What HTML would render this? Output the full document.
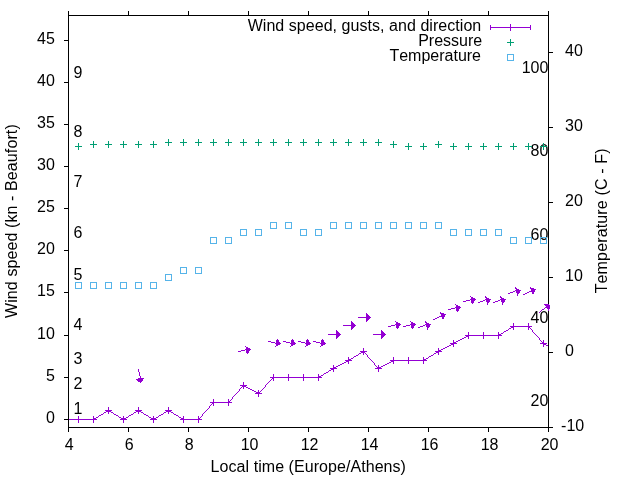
<!DOCTYPE html>
<html><head><meta charset="utf-8"><title>plot</title>
<style>
html,body{margin:0;padding:0;background:#fff;}
svg{display:block;will-change:transform;}
text{font-family:"Liberation Sans",sans-serif;font-size:16px;fill:#000;font-kerning:none;font-feature-settings:"kern" 0,"liga" 0;}
</style></head><body>
<svg width="640" height="480" viewBox="0 0 640 480">
<rect x="0" y="0" width="640" height="480" fill="#ffffff"/>
<defs><clipPath id="pc"><rect x="68" y="15" width="482" height="413"/></clipPath></defs>

<g id="labels">
<text x="73.6" y="414.1">1</text>
<text x="73.6" y="388.9">2</text>
<text x="73.6" y="363.6">3</text>
<text x="73.6" y="330.0">4</text>
<text x="73.6" y="279.6">5</text>
<text x="73.6" y="237.5">6</text>
<text x="73.6" y="187.1">7</text>
<text x="73.6" y="136.6">8</text>
<text x="73.6" y="77.8">9</text>
<text x="548.4" y="405.9" text-anchor="end">20</text>
<text x="548.4" y="322.7" text-anchor="end">40</text>
<text x="548.4" y="239.5" text-anchor="end">60</text>
<text x="548.4" y="156.2" text-anchor="end">80</text>
<text x="548.4" y="73.0" text-anchor="end">100</text>
</g>
<g id="axes" stroke="#000" stroke-width="1" fill="none" shape-rendering="crispEdges">
<rect x="68.5" y="15.5" width="480" height="412"/>
<line x1="68.5" y1="427" x2="68.5" y2="432"/>
<line x1="68.5" y1="11" x2="68.5" y2="16"/>
<line x1="128.5" y1="427" x2="128.5" y2="432"/>
<line x1="128.5" y1="11" x2="128.5" y2="16"/>
<line x1="188.5" y1="427" x2="188.5" y2="432"/>
<line x1="188.5" y1="11" x2="188.5" y2="16"/>
<line x1="248.5" y1="427" x2="248.5" y2="432"/>
<line x1="248.5" y1="11" x2="248.5" y2="16"/>
<line x1="308.5" y1="427" x2="308.5" y2="432"/>
<line x1="308.5" y1="11" x2="308.5" y2="16"/>
<line x1="368.5" y1="427" x2="368.5" y2="432"/>
<line x1="368.5" y1="11" x2="368.5" y2="16"/>
<line x1="428.5" y1="427" x2="428.5" y2="432"/>
<line x1="428.5" y1="11" x2="428.5" y2="16"/>
<line x1="488.5" y1="427" x2="488.5" y2="432"/>
<line x1="488.5" y1="11" x2="488.5" y2="16"/>
<line x1="548.5" y1="427" x2="548.5" y2="432"/>
<line x1="548.5" y1="11" x2="548.5" y2="16"/>
<line x1="64" y1="419.5" x2="69" y2="419.5"/>
<line x1="64" y1="377.5" x2="69" y2="377.5"/>
<line x1="64" y1="335.5" x2="69" y2="335.5"/>
<line x1="64" y1="292.5" x2="69" y2="292.5"/>
<line x1="64" y1="250.5" x2="69" y2="250.5"/>
<line x1="64" y1="208.5" x2="69" y2="208.5"/>
<line x1="64" y1="166.5" x2="69" y2="166.5"/>
<line x1="64" y1="124.5" x2="69" y2="124.5"/>
<line x1="64" y1="82.5" x2="69" y2="82.5"/>
<line x1="64" y1="40.5" x2="69" y2="40.5"/>
<line x1="548" y1="427.5" x2="553" y2="427.5"/>
<line x1="548" y1="352.5" x2="553" y2="352.5"/>
<line x1="548" y1="277.5" x2="553" y2="277.5"/>
<line x1="548" y1="202.5" x2="553" y2="202.5"/>
<line x1="548" y1="127.5" x2="553" y2="127.5"/>
<line x1="548" y1="52.5" x2="553" y2="52.5"/>
</g>
<g id="ticklabels">
<text x="54.8" y="422.9" text-anchor="end">0</text>
<text x="54.8" y="380.9" text-anchor="end">5</text>
<text x="54.8" y="338.9" text-anchor="end">10</text>
<text x="54.8" y="295.9" text-anchor="end">15</text>
<text x="54.8" y="253.9" text-anchor="end">20</text>
<text x="54.8" y="211.9" text-anchor="end">25</text>
<text x="54.8" y="169.9" text-anchor="end">30</text>
<text x="54.8" y="127.9" text-anchor="end">35</text>
<text x="54.8" y="85.9" text-anchor="end">40</text>
<text x="54.8" y="43.9" text-anchor="end">45</text>
<text x="561.1" y="430.9">-10</text>
<text x="565" y="355.9">0</text>
<text x="565" y="280.9">10</text>
<text x="565" y="205.9">20</text>
<text x="565" y="130.9">30</text>
<text x="565" y="55.9">40</text>
<text x="69.1" y="450" text-anchor="middle">4</text>
<text x="129.1" y="450" text-anchor="middle">6</text>
<text x="189.1" y="450" text-anchor="middle">8</text>
<text x="249.6" y="450" text-anchor="middle">10</text>
<text x="309.6" y="450" text-anchor="middle">12</text>
<text x="369.6" y="450" text-anchor="middle">14</text>
<text x="429.6" y="450" text-anchor="middle">16</text>
<text x="489.6" y="450" text-anchor="middle">18</text>
<text x="549.6" y="450" text-anchor="middle">20</text>
<text x="308.3" y="472.3" text-anchor="middle" letter-spacing="0.06">Local time (Europe/Athens)</text>
<text transform="translate(17,221.1) rotate(-90)" text-anchor="middle" letter-spacing="0.1">Wind speed (kn - Beaufort)</text>
<text transform="translate(607,220.8) rotate(-90)" text-anchor="middle" letter-spacing="0.15">Temperature (C - F)</text>
</g>
<g id="legend">
<text x="481.3" y="31.4" text-anchor="end" letter-spacing="0.047">Wind speed, gusts, and direction</text>
<text x="482.2" y="46.4" text-anchor="end">Pressure</text>
<text x="481" y="61.4" text-anchor="end">Temperature</text>
<g stroke="#9400d3" stroke-width="1" fill="none" shape-rendering="crispEdges">
<line x1="490" y1="27.5" x2="531" y2="27.5"/><line x1="490.5" y1="25" x2="490.5" y2="30"/><line x1="530.5" y1="25" x2="530.5" y2="30"/><line x1="510.5" y1="24" x2="510.5" y2="31"/>
</g>
<path d="M507 42.5H514M510.5 39V46" stroke="#009e73" stroke-width="1" fill="none" shape-rendering="crispEdges"/>
<rect x="507.5" y="54.5" width="6" height="6" stroke="#56b4e9" stroke-width="1" fill="none" shape-rendering="crispEdges"/>
</g>
<g id="data" clip-path="url(#pc)">
<path d="M513 326h16v1h-16zM511 327h2v1h-2zM529 327h1v1h-1zM509 328h2v1h-2zM530 328h1v1h-1zM508 329h1v1h-1zM531 329h1v1h-1zM506 330h2v1h-2zM532 330h1v1h-1zM504 331h2v1h-2zM532 331h1v1h-1zM503 332h1v1h-1zM533 332h1v1h-1zM501 333h2v1h-2zM534 333h1v1h-1zM499 334h2v1h-2zM535 334h1v1h-1zM468 335h31v1h-31zM536 335h1v1h-1zM466 336h2v1h-2zM537 336h1v1h-1zM464 337h2v1h-2zM538 337h1v1h-1zM462 338h2v1h-2zM539 338h1v1h-1zM460 339h2v1h-2zM539 339h1v1h-1zM458 340h2v1h-2zM540 340h1v1h-1zM456 341h2v1h-2zM541 341h1v1h-1zM454 342h2v1h-2zM542 342h1v1h-1zM453 343h1v1h-1zM543 343h1v1h-1zM451 344h2v1h-2zM544 344h2v1h-2zM449 345h2v1h-2zM546 345h2v1h-2zM447 346h2v1h-2zM445 347h2v1h-2zM443 348h2v1h-2zM441 349h2v1h-2zM439 350h2v1h-2zM363 351h1v1h-1zM438 351h1v1h-1zM361 352h2v1h-2zM364 352h1v1h-1zM436 352h2v1h-2zM359 353h2v1h-2zM365 353h1v1h-1zM434 353h2v1h-2zM358 354h1v1h-1zM366 354h1v1h-1zM433 354h1v1h-1zM356 355h2v1h-2zM367 355h1v1h-1zM431 355h2v1h-2zM354 356h2v1h-2zM367 356h1v1h-1zM429 356h2v1h-2zM353 357h1v1h-1zM368 357h1v1h-1zM428 357h1v1h-1zM351 358h2v1h-2zM369 358h1v1h-1zM426 358h2v1h-2zM349 359h2v1h-2zM370 359h1v1h-1zM424 359h2v1h-2zM348 360h1v1h-1zM371 360h1v1h-1zM393 360h31v1h-31zM346 361h2v1h-2zM372 361h1v1h-1zM391 361h2v1h-2zM344 362h2v1h-2zM373 362h1v1h-1zM389 362h2v1h-2zM342 363h2v1h-2zM374 363h1v1h-1zM387 363h2v1h-2zM340 364h2v1h-2zM374 364h1v1h-1zM385 364h2v1h-2zM338 365h2v1h-2zM375 365h1v1h-1zM383 365h2v1h-2zM336 366h2v1h-2zM376 366h1v1h-1zM381 366h2v1h-2zM334 367h2v1h-2zM377 367h1v1h-1zM379 367h2v1h-2zM333 368h1v1h-1zM378 368h1v1h-1zM331 369h2v1h-2zM329 370h2v1h-2zM328 371h1v1h-1zM326 372h2v1h-2zM324 373h2v1h-2zM323 374h1v1h-1zM321 375h2v1h-2zM319 376h2v1h-2zM273 377h46v1h-46zM272 378h1v1h-1zM271 379h1v1h-1zM270 380h1v1h-1zM269 381h1v1h-1zM268 382h1v1h-1zM267 383h1v1h-1zM266 384h1v1h-1zM243 385h1v1h-1zM265 385h1v1h-1zM242 386h1v1h-1zM244 386h2v1h-2zM265 386h1v1h-1zM241 387h1v1h-1zM246 387h2v1h-2zM264 387h1v1h-1zM240 388h1v1h-1zM248 388h2v1h-2zM263 388h1v1h-1zM239 389h1v1h-1zM250 389h2v1h-2zM262 389h1v1h-1zM239 390h1v1h-1zM252 390h2v1h-2zM261 390h1v1h-1zM238 391h1v1h-1zM254 391h2v1h-2zM260 391h1v1h-1zM237 392h1v1h-1zM256 392h2v1h-2zM259 392h1v1h-1zM236 393h1v1h-1zM258 393h1v1h-1zM235 394h1v1h-1zM234 395h1v1h-1zM233 396h1v1h-1zM232 397h1v1h-1zM232 398h1v1h-1zM231 399h1v1h-1zM230 400h1v1h-1zM229 401h1v1h-1zM213 402h16v1h-16zM212 403h1v1h-1zM211 404h1v1h-1zM210 405h1v1h-1zM209 406h1v1h-1zM209 407h1v1h-1zM208 408h1v1h-1zM207 409h1v1h-1zM108 410h1v1h-1zM138 410h1v1h-1zM168 410h1v1h-1zM206 410h1v1h-1zM106 411h2v1h-2zM109 411h2v1h-2zM136 411h2v1h-2zM139 411h2v1h-2zM166 411h2v1h-2zM169 411h2v1h-2zM205 411h1v1h-1zM104 412h2v1h-2zM111 412h2v1h-2zM134 412h2v1h-2zM141 412h2v1h-2zM164 412h2v1h-2zM171 412h2v1h-2zM204 412h1v1h-1zM103 413h1v1h-1zM113 413h1v1h-1zM133 413h1v1h-1zM143 413h1v1h-1zM163 413h1v1h-1zM173 413h1v1h-1zM203 413h1v1h-1zM101 414h2v1h-2zM114 414h2v1h-2zM131 414h2v1h-2zM144 414h2v1h-2zM161 414h2v1h-2zM174 414h2v1h-2zM202 414h1v1h-1zM99 415h2v1h-2zM116 415h2v1h-2zM129 415h2v1h-2zM146 415h2v1h-2zM159 415h2v1h-2zM176 415h2v1h-2zM202 415h1v1h-1zM98 416h1v1h-1zM118 416h1v1h-1zM128 416h1v1h-1zM148 416h1v1h-1zM158 416h1v1h-1zM178 416h1v1h-1zM201 416h1v1h-1zM96 417h2v1h-2zM119 417h2v1h-2zM126 417h2v1h-2zM149 417h2v1h-2zM156 417h2v1h-2zM179 417h2v1h-2zM200 417h1v1h-1zM94 418h2v1h-2zM121 418h2v1h-2zM124 418h2v1h-2zM151 418h2v1h-2zM154 418h2v1h-2zM181 418h2v1h-2zM199 418h1v1h-1zM69 419h25v1h-25zM123 419h1v1h-1zM153 419h1v1h-1zM183 419h16v1h-16z" fill="#9400d3" shape-rendering="crispEdges"/>
<path d="M75 419.5H82M78.5 416V423" stroke="#9400d3" stroke-width="1" fill="none" shape-rendering="crispEdges"/>
<path d="M90 419.5H97M93.5 416V423" stroke="#9400d3" stroke-width="1" fill="none" shape-rendering="crispEdges"/>
<path d="M105 410.5H112M108.5 407V414" stroke="#9400d3" stroke-width="1" fill="none" shape-rendering="crispEdges"/>
<path d="M120 419.5H127M123.5 416V423" stroke="#9400d3" stroke-width="1" fill="none" shape-rendering="crispEdges"/>
<path d="M135 410.5H142M138.5 407V414" stroke="#9400d3" stroke-width="1" fill="none" shape-rendering="crispEdges"/>
<path d="M150 419.5H157M153.5 416V423" stroke="#9400d3" stroke-width="1" fill="none" shape-rendering="crispEdges"/>
<path d="M165 410.5H172M168.5 407V414" stroke="#9400d3" stroke-width="1" fill="none" shape-rendering="crispEdges"/>
<path d="M180 419.5H187M183.5 416V423" stroke="#9400d3" stroke-width="1" fill="none" shape-rendering="crispEdges"/>
<path d="M195 419.5H202M198.5 416V423" stroke="#9400d3" stroke-width="1" fill="none" shape-rendering="crispEdges"/>
<path d="M210 402.5H217M213.5 399V406" stroke="#9400d3" stroke-width="1" fill="none" shape-rendering="crispEdges"/>
<path d="M225 402.5H232M228.5 399V406" stroke="#9400d3" stroke-width="1" fill="none" shape-rendering="crispEdges"/>
<path d="M240 385.5H247M243.5 382V389" stroke="#9400d3" stroke-width="1" fill="none" shape-rendering="crispEdges"/>
<path d="M255 393.5H262M258.5 390V397" stroke="#9400d3" stroke-width="1" fill="none" shape-rendering="crispEdges"/>
<path d="M270 377.5H277M273.5 374V381" stroke="#9400d3" stroke-width="1" fill="none" shape-rendering="crispEdges"/>
<path d="M285 377.5H292M288.5 374V381" stroke="#9400d3" stroke-width="1" fill="none" shape-rendering="crispEdges"/>
<path d="M300 377.5H307M303.5 374V381" stroke="#9400d3" stroke-width="1" fill="none" shape-rendering="crispEdges"/>
<path d="M315 377.5H322M318.5 374V381" stroke="#9400d3" stroke-width="1" fill="none" shape-rendering="crispEdges"/>
<path d="M330 368.5H337M333.5 365V372" stroke="#9400d3" stroke-width="1" fill="none" shape-rendering="crispEdges"/>
<path d="M345 360.5H352M348.5 357V364" stroke="#9400d3" stroke-width="1" fill="none" shape-rendering="crispEdges"/>
<path d="M360 351.5H367M363.5 348V355" stroke="#9400d3" stroke-width="1" fill="none" shape-rendering="crispEdges"/>
<path d="M375 368.5H382M378.5 365V372" stroke="#9400d3" stroke-width="1" fill="none" shape-rendering="crispEdges"/>
<path d="M390 360.5H397M393.5 357V364" stroke="#9400d3" stroke-width="1" fill="none" shape-rendering="crispEdges"/>
<path d="M405 360.5H412M408.5 357V364" stroke="#9400d3" stroke-width="1" fill="none" shape-rendering="crispEdges"/>
<path d="M420 360.5H427M423.5 357V364" stroke="#9400d3" stroke-width="1" fill="none" shape-rendering="crispEdges"/>
<path d="M435 351.5H442M438.5 348V355" stroke="#9400d3" stroke-width="1" fill="none" shape-rendering="crispEdges"/>
<path d="M450 343.5H457M453.5 340V347" stroke="#9400d3" stroke-width="1" fill="none" shape-rendering="crispEdges"/>
<path d="M465 335.5H472M468.5 332V339" stroke="#9400d3" stroke-width="1" fill="none" shape-rendering="crispEdges"/>
<path d="M480 335.5H487M483.5 332V339" stroke="#9400d3" stroke-width="1" fill="none" shape-rendering="crispEdges"/>
<path d="M495 335.5H502M498.5 332V339" stroke="#9400d3" stroke-width="1" fill="none" shape-rendering="crispEdges"/>
<path d="M510 326.5H517M513.5 323V330" stroke="#9400d3" stroke-width="1" fill="none" shape-rendering="crispEdges"/>
<path d="M525 326.5H532M528.5 323V330" stroke="#9400d3" stroke-width="1" fill="none" shape-rendering="crispEdges"/>
<path d="M540 343.5H547M543.5 340V347" stroke="#9400d3" stroke-width="1" fill="none" shape-rendering="crispEdges"/>
<path d="M138 369h1v1h-1zM138 370h1v1h-1zM138 371h1v1h-1zM139 372h1v1h-1zM139 373h1v1h-1zM139 374h1v1h-1zM139 375h1v1h-1zM140 376h1v1h-1zM140 377h1v1h-1zM138 378h6v1h-6zM136 379h7v1h-7zM137 380h6v1h-6zM138 381h4v1h-4zM140 382h1v1h-1z" fill="#9400d3" shape-rendering="crispEdges"/>
<g shape-rendering="crispEdges"><path d="M245 349h2v1h-2zM241 350h4v1h-4zM238 351h3v1h-3z" fill="#9400d3"/><polygon points="250.99,349.42 246.80,354.68 245.32,345.80" fill="#9400d3"/></g>
<g shape-rendering="crispEdges"><path d="M268 341h3v1h-3zM271 342h4v1h-4zM275 343h2v1h-2z" fill="#9400d3"/><polygon points="280.99,343.58 275.32,347.20 276.80,338.32" fill="#9400d3"/></g>
<g shape-rendering="crispEdges"><path d="M283 341h3v1h-3zM286 342h4v1h-4zM290 343h2v1h-2z" fill="#9400d3"/><polygon points="295.99,343.58 290.32,347.20 291.80,338.32" fill="#9400d3"/></g>
<g shape-rendering="crispEdges"><path d="M298 341h3v1h-3zM301 342h4v1h-4zM305 343h2v1h-2z" fill="#9400d3"/><polygon points="310.99,343.58 305.32,347.20 306.80,338.32" fill="#9400d3"/></g>
<g shape-rendering="crispEdges"><path d="M313 341h3v1h-3zM316 342h4v1h-4zM320 343h2v1h-2z" fill="#9400d3"/><polygon points="325.99,343.58 320.32,347.20 321.80,338.32" fill="#9400d3"/></g>
<g shape-rendering="crispEdges"><path d="M328 334h9v1h-9z" fill="#9400d3"/><polygon points="341.00,334.50 336.00,339.00 336.00,330.00" fill="#9400d3"/></g>
<g shape-rendering="crispEdges"><path d="M343 325h8v1h-8z" fill="#9400d3"/><polygon points="356.00,325.50 351.00,330.00 351.00,321.00" fill="#9400d3"/></g>
<g shape-rendering="crispEdges"><path d="M358 317h9v1h-9z" fill="#9400d3"/><polygon points="371.00,317.50 366.00,322.00 366.00,313.00" fill="#9400d3"/></g>
<g shape-rendering="crispEdges"><path d="M373 334h8v1h-8z" fill="#9400d3"/><polygon points="386.00,334.50 381.00,339.00 381.00,330.00" fill="#9400d3"/></g>
<g shape-rendering="crispEdges"><path d="M395 324h2v1h-2zM391 325h4v1h-4zM388 326h3v1h-3z" fill="#9400d3"/><polygon points="400.99,324.42 396.80,329.68 395.32,320.80" fill="#9400d3"/></g>
<g shape-rendering="crispEdges"><path d="M410 324h2v1h-2zM406 325h4v1h-4zM403 326h3v1h-3z" fill="#9400d3"/><polygon points="415.99,324.42 411.80,329.68 410.32,320.80" fill="#9400d3"/></g>
<g shape-rendering="crispEdges"><path d="M425 324h2v1h-2zM423 325h2v1h-2zM420 326h3v1h-3zM418 327h2v1h-2z" fill="#9400d3"/><polygon points="430.99,324.38 427.23,329.96 425.04,321.23" fill="#9400d3"/></g>
<g shape-rendering="crispEdges"><path d="M441 315h1v1h-1zM439 316h2v1h-2zM437 317h2v1h-2zM435 318h2v1h-2zM433 319h2v1h-2z" fill="#9400d3"/><polygon points="445.96,314.31 443.08,320.38 439.62,312.08" fill="#9400d3"/></g>
<g shape-rendering="crispEdges"><path d="M455 307h2v1h-2zM451 308h4v1h-4zM448 309h3v1h-3z" fill="#9400d3"/><polygon points="460.99,307.42 456.80,312.68 455.32,303.80" fill="#9400d3"/></g>
<g shape-rendering="crispEdges"><path d="M470 299h2v1h-2zM466 300h4v1h-4zM463 301h3v1h-3z" fill="#9400d3"/><polygon points="475.99,299.42 471.80,304.68 470.32,295.80" fill="#9400d3"/></g>
<g shape-rendering="crispEdges"><path d="M485 299h2v1h-2zM483 300h2v1h-2zM480 301h3v1h-3zM478 302h2v1h-2z" fill="#9400d3"/><polygon points="490.99,299.38 487.23,304.96 485.04,296.23" fill="#9400d3"/></g>
<g shape-rendering="crispEdges"><path d="M500 299h2v1h-2zM498 300h2v1h-2zM495 301h3v1h-3zM493 302h2v1h-2z" fill="#9400d3"/><polygon points="505.99,299.38 502.23,304.96 500.04,296.23" fill="#9400d3"/></g>
<g shape-rendering="crispEdges"><path d="M515 290h2v1h-2zM513 291h2v1h-2zM510 292h3v1h-3zM508 293h2v1h-2z" fill="#9400d3"/><polygon points="520.99,290.38 517.23,295.96 515.04,287.23" fill="#9400d3"/></g>
<g shape-rendering="crispEdges"><path d="M531 290h1v1h-1zM529 291h2v1h-2zM527 292h2v1h-2zM525 293h2v1h-2zM523 294h2v1h-2z" fill="#9400d3"/><polygon points="535.96,289.31 533.08,295.38 529.62,287.08" fill="#9400d3"/></g>
<g shape-rendering="crispEdges"><path d="M546 306h1v1h-1zM545 307h1v1h-1zM544 308h1v1h-1zM542 309h2v1h-2zM541 310h1v1h-1zM540 311h1v1h-1zM539 312h1v1h-1z" fill="#9400d3"/><polygon points="550.51,304.71 549.03,311.27 543.83,303.93" fill="#9400d3"/></g>
<path d="M75 146.5H82M78.5 143V150" stroke="#009e73" stroke-width="1" fill="none" shape-rendering="crispEdges"/>
<path d="M90 144.5H97M93.5 141V148" stroke="#009e73" stroke-width="1" fill="none" shape-rendering="crispEdges"/>
<path d="M105 144.5H112M108.5 141V148" stroke="#009e73" stroke-width="1" fill="none" shape-rendering="crispEdges"/>
<path d="M120 144.5H127M123.5 141V148" stroke="#009e73" stroke-width="1" fill="none" shape-rendering="crispEdges"/>
<path d="M135 144.5H142M138.5 141V148" stroke="#009e73" stroke-width="1" fill="none" shape-rendering="crispEdges"/>
<path d="M150 144.5H157M153.5 141V148" stroke="#009e73" stroke-width="1" fill="none" shape-rendering="crispEdges"/>
<path d="M165 142.5H172M168.5 139V146" stroke="#009e73" stroke-width="1" fill="none" shape-rendering="crispEdges"/>
<path d="M180 142.5H187M183.5 139V146" stroke="#009e73" stroke-width="1" fill="none" shape-rendering="crispEdges"/>
<path d="M195 142.5H202M198.5 139V146" stroke="#009e73" stroke-width="1" fill="none" shape-rendering="crispEdges"/>
<path d="M210 142.5H217M213.5 139V146" stroke="#009e73" stroke-width="1" fill="none" shape-rendering="crispEdges"/>
<path d="M225 142.5H232M228.5 139V146" stroke="#009e73" stroke-width="1" fill="none" shape-rendering="crispEdges"/>
<path d="M240 142.5H247M243.5 139V146" stroke="#009e73" stroke-width="1" fill="none" shape-rendering="crispEdges"/>
<path d="M255 142.5H262M258.5 139V146" stroke="#009e73" stroke-width="1" fill="none" shape-rendering="crispEdges"/>
<path d="M270 142.5H277M273.5 139V146" stroke="#009e73" stroke-width="1" fill="none" shape-rendering="crispEdges"/>
<path d="M285 142.5H292M288.5 139V146" stroke="#009e73" stroke-width="1" fill="none" shape-rendering="crispEdges"/>
<path d="M300 142.5H307M303.5 139V146" stroke="#009e73" stroke-width="1" fill="none" shape-rendering="crispEdges"/>
<path d="M315 142.5H322M318.5 139V146" stroke="#009e73" stroke-width="1" fill="none" shape-rendering="crispEdges"/>
<path d="M330 142.5H337M333.5 139V146" stroke="#009e73" stroke-width="1" fill="none" shape-rendering="crispEdges"/>
<path d="M345 142.5H352M348.5 139V146" stroke="#009e73" stroke-width="1" fill="none" shape-rendering="crispEdges"/>
<path d="M360 142.5H367M363.5 139V146" stroke="#009e73" stroke-width="1" fill="none" shape-rendering="crispEdges"/>
<path d="M375 142.5H382M378.5 139V146" stroke="#009e73" stroke-width="1" fill="none" shape-rendering="crispEdges"/>
<path d="M390 144.5H397M393.5 141V148" stroke="#009e73" stroke-width="1" fill="none" shape-rendering="crispEdges"/>
<path d="M405 146.5H412M408.5 143V150" stroke="#009e73" stroke-width="1" fill="none" shape-rendering="crispEdges"/>
<path d="M420 146.5H427M423.5 143V150" stroke="#009e73" stroke-width="1" fill="none" shape-rendering="crispEdges"/>
<path d="M435 144.5H442M438.5 141V148" stroke="#009e73" stroke-width="1" fill="none" shape-rendering="crispEdges"/>
<path d="M450 146.5H457M453.5 143V150" stroke="#009e73" stroke-width="1" fill="none" shape-rendering="crispEdges"/>
<path d="M465 146.5H472M468.5 143V150" stroke="#009e73" stroke-width="1" fill="none" shape-rendering="crispEdges"/>
<path d="M480 146.5H487M483.5 143V150" stroke="#009e73" stroke-width="1" fill="none" shape-rendering="crispEdges"/>
<path d="M495 146.5H502M498.5 143V150" stroke="#009e73" stroke-width="1" fill="none" shape-rendering="crispEdges"/>
<path d="M510 146.5H517M513.5 143V150" stroke="#009e73" stroke-width="1" fill="none" shape-rendering="crispEdges"/>
<path d="M525 146.5H532M528.5 143V150" stroke="#009e73" stroke-width="1" fill="none" shape-rendering="crispEdges"/>
<path d="M540 146.5H547M543.5 143V150" stroke="#009e73" stroke-width="1" fill="none" shape-rendering="crispEdges"/>
<rect x="75.5" y="282.5" width="6" height="6" stroke="#56b4e9" stroke-width="1" fill="none" shape-rendering="crispEdges"/>
<rect x="90.5" y="282.5" width="6" height="6" stroke="#56b4e9" stroke-width="1" fill="none" shape-rendering="crispEdges"/>
<rect x="105.5" y="282.5" width="6" height="6" stroke="#56b4e9" stroke-width="1" fill="none" shape-rendering="crispEdges"/>
<rect x="120.5" y="282.5" width="6" height="6" stroke="#56b4e9" stroke-width="1" fill="none" shape-rendering="crispEdges"/>
<rect x="135.5" y="282.5" width="6" height="6" stroke="#56b4e9" stroke-width="1" fill="none" shape-rendering="crispEdges"/>
<rect x="150.5" y="282.5" width="6" height="6" stroke="#56b4e9" stroke-width="1" fill="none" shape-rendering="crispEdges"/>
<rect x="165.5" y="274.5" width="6" height="6" stroke="#56b4e9" stroke-width="1" fill="none" shape-rendering="crispEdges"/>
<rect x="180.5" y="267.5" width="6" height="6" stroke="#56b4e9" stroke-width="1" fill="none" shape-rendering="crispEdges"/>
<rect x="195.5" y="267.5" width="6" height="6" stroke="#56b4e9" stroke-width="1" fill="none" shape-rendering="crispEdges"/>
<rect x="210.5" y="237.5" width="6" height="6" stroke="#56b4e9" stroke-width="1" fill="none" shape-rendering="crispEdges"/>
<rect x="225.5" y="237.5" width="6" height="6" stroke="#56b4e9" stroke-width="1" fill="none" shape-rendering="crispEdges"/>
<rect x="240.5" y="229.5" width="6" height="6" stroke="#56b4e9" stroke-width="1" fill="none" shape-rendering="crispEdges"/>
<rect x="255.5" y="229.5" width="6" height="6" stroke="#56b4e9" stroke-width="1" fill="none" shape-rendering="crispEdges"/>
<rect x="270.5" y="222.5" width="6" height="6" stroke="#56b4e9" stroke-width="1" fill="none" shape-rendering="crispEdges"/>
<rect x="285.5" y="222.5" width="6" height="6" stroke="#56b4e9" stroke-width="1" fill="none" shape-rendering="crispEdges"/>
<rect x="300.5" y="229.5" width="6" height="6" stroke="#56b4e9" stroke-width="1" fill="none" shape-rendering="crispEdges"/>
<rect x="315.5" y="229.5" width="6" height="6" stroke="#56b4e9" stroke-width="1" fill="none" shape-rendering="crispEdges"/>
<rect x="330.5" y="222.5" width="6" height="6" stroke="#56b4e9" stroke-width="1" fill="none" shape-rendering="crispEdges"/>
<rect x="345.5" y="222.5" width="6" height="6" stroke="#56b4e9" stroke-width="1" fill="none" shape-rendering="crispEdges"/>
<rect x="360.5" y="222.5" width="6" height="6" stroke="#56b4e9" stroke-width="1" fill="none" shape-rendering="crispEdges"/>
<rect x="375.5" y="222.5" width="6" height="6" stroke="#56b4e9" stroke-width="1" fill="none" shape-rendering="crispEdges"/>
<rect x="390.5" y="222.5" width="6" height="6" stroke="#56b4e9" stroke-width="1" fill="none" shape-rendering="crispEdges"/>
<rect x="405.5" y="222.5" width="6" height="6" stroke="#56b4e9" stroke-width="1" fill="none" shape-rendering="crispEdges"/>
<rect x="420.5" y="222.5" width="6" height="6" stroke="#56b4e9" stroke-width="1" fill="none" shape-rendering="crispEdges"/>
<rect x="435.5" y="222.5" width="6" height="6" stroke="#56b4e9" stroke-width="1" fill="none" shape-rendering="crispEdges"/>
<rect x="450.5" y="229.5" width="6" height="6" stroke="#56b4e9" stroke-width="1" fill="none" shape-rendering="crispEdges"/>
<rect x="465.5" y="229.5" width="6" height="6" stroke="#56b4e9" stroke-width="1" fill="none" shape-rendering="crispEdges"/>
<rect x="480.5" y="229.5" width="6" height="6" stroke="#56b4e9" stroke-width="1" fill="none" shape-rendering="crispEdges"/>
<rect x="495.5" y="229.5" width="6" height="6" stroke="#56b4e9" stroke-width="1" fill="none" shape-rendering="crispEdges"/>
<rect x="510.5" y="237.5" width="6" height="6" stroke="#56b4e9" stroke-width="1" fill="none" shape-rendering="crispEdges"/>
<rect x="525.5" y="237.5" width="6" height="6" stroke="#56b4e9" stroke-width="1" fill="none" shape-rendering="crispEdges"/>
<rect x="540.5" y="237.5" width="6" height="6" stroke="#56b4e9" stroke-width="1" fill="none" shape-rendering="crispEdges"/>
</g>
</svg></body></html>
